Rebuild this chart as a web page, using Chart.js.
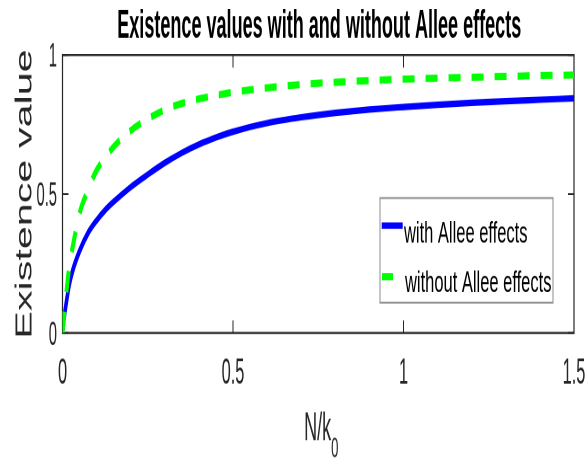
<!DOCTYPE html>
<html>
<head>
<meta charset="utf-8">
<script src="https://cdn.jsdelivr.net/npm/chart.js@4.4.1/dist/chart.umd.min.js"></script>
<style>
  html, body { margin: 0; padding: 0; background: #fff; }
  body { width: 588px; height: 460px; }
  /* the figure is laid out at 588x256 and stretched tall to 588x460 */
  #wrap { width: 588px; height: 256px; transform: scaleY(1.796875); transform-origin: 0 0; }
</style>
</head>
<body>
<div id="wrap"><canvas id="chart"></canvas></div>
<script>
// N/k0 sample points and existence values for the two models
const nValues = [0, 0.005, 0.01, 0.02, 0.03, 0.05, 0.075, 0.1, 0.125, 0.15, 0.2, 0.25, 0.3, 0.35, 0.4, 0.45, 0.5, 0.6, 0.7, 0.8, 0.9, 1.0, 1.1, 1.2, 1.3, 1.4, 1.5];
const withAllee = [0, 0.055, 0.1, 0.175, 0.225, 0.295, 0.36, 0.405, 0.442, 0.472, 0.525, 0.57, 0.612, 0.648, 0.678, 0.703, 0.724, 0.755, 0.776, 0.792, 0.804, 0.813, 0.821, 0.828, 0.834, 0.839, 0.844];
const withoutAllee = [0, 0.07, 0.13, 0.24, 0.31, 0.43, 0.515, 0.585, 0.63, 0.67, 0.728, 0.77, 0.803, 0.826, 0.842, 0.855, 0.866, 0.882, 0.894, 0.902, 0.908, 0.913, 0.917, 0.92, 0.923, 0.926, 0.928];
const xTicks = [0, 0.5, 1, 1.5];
const yTicks = [0, 0.5, 1];
const seriesNames = ['with Allee effects', 'without Allee effects'];

const axisColor = '#262626';
const fontFamily = '"Liberation Sans", Arial, sans-serif';

function toPoints(ys) {
    return nValues.map((n, i) => ({ x: n, y: ys[i] }));
}

// condensed text: normal face squeezed sideways
function squeezed(ctx, text, x, y, font, align, sx) {
    ctx.save();
    ctx.font = font;
    ctx.textAlign = align;
    ctx.textBaseline = 'alphabetic';
    ctx.translate(x, y);
    ctx.scale(sx, 1);
    ctx.fillText(text, 0, 0);
    ctx.restore();
}

// box around the axes with inward tick marks on all four sides
const axesBox = {
    id: 'axesBox',
    beforeDatasetsDraw(chart) {
        const { ctx, chartArea: a, scales: { x, y } } = chart;
        ctx.save();
        ctx.strokeStyle = axisColor;
        ctx.lineWidth = 1.2;
        ctx.strokeRect(a.left, a.top, a.right - a.left, a.bottom - a.top);
        ctx.lineWidth = 1;
        ctx.beginPath();
        xTicks.forEach(v => {
            const px = x.getPixelForValue(v);
            ctx.moveTo(px, a.bottom); ctx.lineTo(px, a.bottom - 7);
            ctx.moveTo(px, a.top); ctx.lineTo(px, a.top + 7);
        });
        yTicks.forEach(v => {
            const py = y.getPixelForValue(v);
            ctx.moveTo(a.left, py); ctx.lineTo(a.left + 6, py);
            ctx.moveTo(a.right, py); ctx.lineTo(a.right - 6, py);
        });
        ctx.stroke();
        ctx.restore();
    },
    afterDraw(chart) {
        const { ctx, chartArea: a, scales: { x, y } } = chart;
        ctx.save();

        // tick labels
        ctx.fillStyle = axisColor;
        xTicks.forEach(v => {
            squeezed(ctx, String(v), x.getPixelForValue(v), 213.5, '20px ' + fontFamily, 'center', 0.82);
        });
        yTicks.forEach(v => {
            squeezed(ctx, String(v), a.left - 5.5, y.getPixelForValue(v) + 6.5, '18px ' + fontFamily, 'right', 0.82);
        });

        // title
        ctx.fillStyle = '#000';
        squeezed(ctx, 'Existence values with and without Allee effects', (a.left + a.right) / 2 + 1, 21.1,
            'bold 22px ' + fontFamily, 'center', 0.82);

        // x label N/k with subscript 0
        ctx.fillStyle = axisColor;
        ctx.font = '22px ' + fontFamily;
        const w1 = ctx.measureText('N/k').width * 0.82;
        ctx.font = '16px ' + fontFamily;
        const w2 = ctx.measureText('0').width * 0.82;
        const sx = (a.left + a.right) / 2 + 3 - (w1 + w2) / 2;
        squeezed(ctx, 'N/k', sx, 244.9, '22px ' + fontFamily, 'left', 0.82);
        squeezed(ctx, '0', sx + w1, 254.3, '16px ' + fontFamily, 'left', 0.82);

        // legend
        const lx = 380, ly = 110.2, lw = 173, lh = 58.2;
        ctx.fillStyle = '#fff';
        ctx.fillRect(lx, ly, lw, lh);
        ctx.strokeStyle = '#8c8c8c';
        ctx.lineWidth = 1;
        ctx.strokeRect(lx, ly, lw, lh);

        ctx.lineCap = 'butt';
        ctx.strokeStyle = '#0000ff';
        ctx.lineWidth = 3.6;
        ctx.beginPath(); ctx.moveTo(381.7, 125.6); ctx.lineTo(402.7, 125.6); ctx.stroke();
        ctx.strokeStyle = '#00ff00';
        ctx.lineWidth = 4;
        ctx.beginPath(); ctx.moveTo(382, 154); ctx.lineTo(393, 154); ctx.stroke();

        ctx.fillStyle = '#000';
        ctx.font = '16.5px ' + fontFamily;
        ctx.textAlign = 'left';
        ctx.textBaseline = 'alphabetic';
        ctx.fillText(seriesNames[0], 404, 135.2);
        ctx.fillText(seriesNames[1], 405, 162.3);
        ctx.restore();
    }
};

new Chart(document.getElementById('chart'), {
    type: 'line',
    data: {
        datasets: [{
            label: seriesNames[0],
            data: toPoints(withAllee),
            borderColor: '#0000ff',
            borderWidth: 3.6,
            cubicInterpolationMode: 'monotone',
            pointRadius: 0,
            order: 1
        }, {
            label: seriesNames[1],
            data: toPoints(withoutAllee),
            borderColor: '#00ff00',
            borderWidth: 4,
            borderDash: [12, 11],
            borderCapStyle: 'butt',
            cubicInterpolationMode: 'monotone',
            pointRadius: 0,
            order: 0
        }]
    },
    options: {
        responsive: true,
        maintainAspectRatio: false,
        devicePixelRatio: 2,
        animation: false,
        layout: { padding: { top: 30.6, right: 14, bottom: 0, left: 0 } },
        plugins: {
            legend: { display: false },
            title: { display: false },
            tooltip: { enabled: false }
        },
        scales: {
            x: {
                type: 'linear',
                min: 0,
                max: 1.5,
                afterFit: scale => { scale.height = 70.7; },
                grid: { display: false },
                border: { display: false },
                ticks: { display: false }
            },
            y: {
                min: 0,
                max: 1,
                afterFit: scale => { scale.width = 62.5; },
                grid: { display: false },
                border: { display: false },
                ticks: { display: false },
                title: {
                    display: true,
                    text: 'Existence value',
                    color: axisColor,
                    padding: { top: 11.5, bottom: 0 },
                    font: { family: fontFamily, size: 23 }
                }
            }
        }
    },
    plugins: [axesBox]
});
</script>
</body>
</html>
